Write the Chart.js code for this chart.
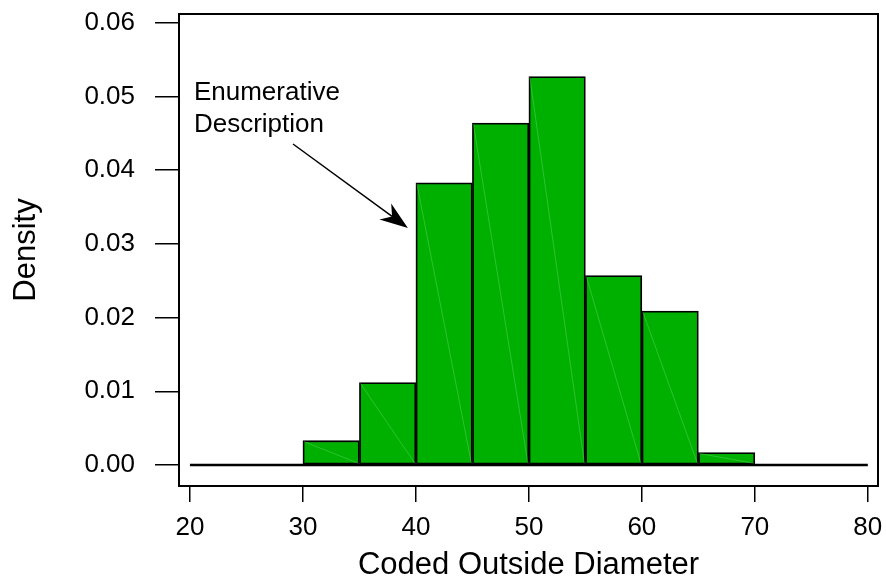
<!DOCTYPE html>
<html>
<head>
<meta charset="utf-8">
<script src="https://cdn.jsdelivr.net/npm/chart.js@4.4.1/dist/chart.umd.min.js"></script>
<style>
  html, body { margin: 0; padding: 0; background: #fff; }
  canvas { display: block; }
</style>
</head>
<body>
<canvas id="histChart" width="886" height="584"></canvas>
<script>
// histogram bins (left edge) and their densities
const binStart = [30, 35, 40, 45, 50, 55, 60, 65];
const binWidth = 5;
const density = [0.0033, 0.0112, 0.0383, 0.0464, 0.0527, 0.0257, 0.0209, 0.0017];
const baseLine = [20, 80];
const xTicks = [20, 30, 40, 50, 60, 70, 80];
const yTicks = [0, 0.01, 0.02, 0.03, 0.04, 0.05, 0.06];
const noteLines = ["Enumerative", "Description"];

const FONT = "'Liberation Sans', Arial, sans-serif";

// box around the plot area
const framePlugin = {
    id: 'frame',
    afterDraw(chart){
        const {ctx, chartArea: a} = chart;
        ctx.save();
        ctx.strokeStyle = '#000';
        ctx.lineWidth = 2;
        ctx.strokeRect(a.left, a.top, a.right - a.left, a.bottom - a.top);
        ctx.restore();
    }
};

// faint diagonal seams inside each bar
const seamPlugin = {
    id: 'seams',
    afterDatasetsDraw(chart){
        const ctx = chart.ctx;
        const meta = chart.getDatasetMeta(0);
        ctx.save();
        ctx.strokeStyle = 'rgba(130,225,130,0.6)';
        ctx.lineWidth = 0.6;
        meta.data.forEach(bar=>{
            const p = bar.getProps(['x','y','base','width'], true);
            ctx.beginPath();
            ctx.moveTo(p.x - p.width/2 + 1, p.y + 1);
            ctx.lineTo(p.x + p.width/2 - 1, p.base - 1);
            ctx.stroke();
        });
        ctx.restore();
    }
};

// label + arrow, placed in data coordinates
const notePlugin = {
    id: 'note',
    afterDraw(chart){
        const {ctx, scales:{x, y}} = chart;
        ctx.save();
        ctx.fillStyle = '#000';
        ctx.font = '26px ' + FONT;
        ctx.textAlign = 'left';
        ctx.textBaseline = 'alphabetic';
        ctx.fillText(noteLines[0], x.getPixelForValue(20.35), y.getPixelForValue(0.0495));
        ctx.fillText(noteLines[1], x.getPixelForValue(20.35), y.getPixelForValue(0.0452));

        const x0 = x.getPixelForValue(29.12), y0 = y.getPixelForValue(0.04356);
        const x1 = x.getPixelForValue(39.29), y1 = y.getPixelForValue(0.03216);
        const ang = Math.atan2(y1 - y0, x1 - x0);
        const len = 28, half = 10;
        ctx.strokeStyle = '#000';
        ctx.lineWidth = 1.5;
        ctx.beginPath();
        ctx.moveTo(x0, y0);
        ctx.lineTo(x1 - Math.cos(ang)*len*0.7, y1 - Math.sin(ang)*len*0.7);
        ctx.stroke();
        const bx = x1 - Math.cos(ang)*len, by = y1 - Math.sin(ang)*len;
        const nx = -Math.sin(ang), ny = Math.cos(ang);
        ctx.beginPath();
        ctx.moveTo(x1, y1);
        ctx.lineTo(bx + nx*half, by + ny*half);
        ctx.lineTo(x1 - Math.cos(ang)*len*0.7, y1 - Math.sin(ang)*len*0.7);
        ctx.lineTo(bx - nx*half, by - ny*half);
        ctx.closePath();
        ctx.fill();
        ctx.restore();
    }
};

const ctx = document.getElementById('histChart').getContext('2d');
new Chart(ctx, {
    type: 'bar',
    data: {
        datasets: [
            {
                label: 'Density',
                data: binStart.map((s,i)=>({x: s + binWidth/2, y: density[i]})),
                backgroundColor: '#00b000',
                borderColor: '#000',
                borderWidth: 1.8,
                borderSkipped: false,
                barPercentage: 1,
                categoryPercentage: 1,
                order: 1
            },
            {
                type: 'line',
                label: 'base',
                data: baseLine.map(v=>({x: v, y: 0})),
                borderColor: '#000',
                borderWidth: 2.5,
                pointRadius: 0,
                order: 2
            }
        ]
    },
    options: {
        responsive: false,
        animation: false,
        layout: { padding: { top: 14, right: 8, left: 0, bottom: 0 } },
        plugins: { legend: {display: false}, tooltip: {enabled: false} },
        scales: {
            x: {
                type: 'linear',
                offset: false,
                min: 19.03,
                max: 80.9,
                afterBuildTicks: s=>{ s.ticks = xTicks.map(v=>({value: v})); },
                afterFit: s=>{ s.height = 98; s.paddingLeft = 0; s.paddingRight = 0; },
                grid: { offset: false, drawOnChartArea: false, drawTicks: true, tickLength: 16, color: '#000', lineWidth: 1.5 },
                border: { display: false },
                ticks: { color: '#000', font: {family: FONT, size: 26}, padding: 10, maxRotation: 0, autoSkip: false },
                title: { display: true, text: 'Coded Outside Diameter', color: '#000', font: {family: FONT, size: 31}, padding: {top: 0, bottom: 0} }
            },
            y: {
                min: -0.00285,
                max: 0.0612,
                afterBuildTicks: s=>{ s.ticks = yTicks.map(v=>({value: v})); },
                afterFit: s=>{ s.width = 179; s.paddingTop = 0; s.paddingBottom = 0; },
                grid: { drawOnChartArea: false, drawTicks: true, tickLength: 24, color: '#000', lineWidth: 1.5 },
                border: { display: false },
                ticks: { color: '#000', font: {family: FONT, size: 26}, padding: 20, callback: v=>v.toFixed(2), autoSkip: false },
                title: { display: true, text: 'Density', color: '#000', font: {family: FONT, size: 31}, padding: {top: 8, bottom: 0} }
            }
        }
    },
    plugins: [framePlugin, seamPlugin, notePlugin]
});
</script>
</body>
</html>
